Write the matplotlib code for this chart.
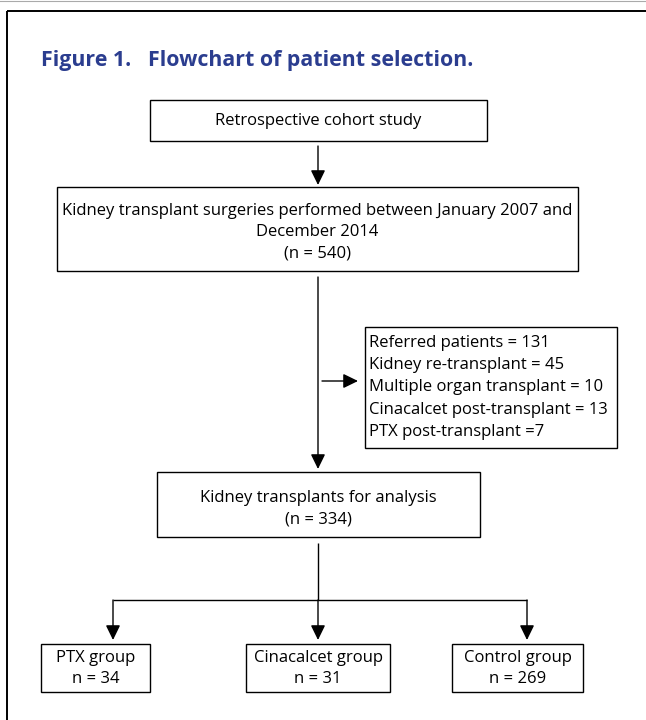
import matplotlib
matplotlib.use("Agg")
import matplotlib.pyplot as plt
from matplotlib.patches import Rectangle, FancyArrowPatch

title_label = "Figure 1."
title_text = "Flowchart of patient selection."
top_box = ["Retrospective cohort study"]
surgery_box = ["Kidney transplant surgeries performed between January 2007 and",
               "December 2014", "(n = 540)"]
exclusion_box = ["Referred patients = 131", "Kidney re-transplant = 45",
                 "Multiple organ transplant = 10", "Cinacalcet post-transplant = 13",
                 "PTX post-transplant =7"]
analysis_box = ["Kidney transplants for analysis", "(n = 334)"]
groups = ["PTX group", "Cinacalcet group", "Control group"]
group_n = [34, 31, 269]

W, H = 646, 720
fig = plt.figure(figsize=(W / 100, H / 100), dpi=100)
ax = fig.add_axes([0, 0, 1, 1])
ax.set_xlim(0, W)
ax.set_ylim(H, 0)
ax.axis("off")

FONT = "Open Sans"
FS = 12.0
TITLE_COLOR = "#2b3d8f"
LW = 1.0

# outer frame
ax.plot([7, W + 5], [11, 11], color="black", lw=1.4, solid_capstyle="butt")
ax.plot([7, 7], [11, H + 5], color="black", lw=1.4, solid_capstyle="butt")
ax.plot([0, W], [0.5, 0.5], color="#aaaaaa", lw=0.8)

# title
ax.text(41, 66, title_label, color=TITLE_COLOR, fontsize=15.4, fontweight="bold",
        family="Open Sans", va="baseline", ha="left")
ax.text(148, 66, title_text, color=TITLE_COLOR, fontsize=15.4, fontweight="bold",
        family="Open Sans", va="baseline", ha="left")


def box(x0, y0, x1, y1):
    ax.add_patch(Rectangle((x0, y0), x1 - x0, y1 - y0, fill=False,
                           edgecolor="black", lw=LW))


def centered_lines(lines, xc, ys):
    for t, y in zip(lines, ys):
        ax.text(xc, y, t, fontsize=FS, family=FONT, ha="center", va="center")


def arrow(x0, y0, x1, y1):
    ax.add_patch(FancyArrowPatch((x0, y0), (x1, y1),
                                 arrowstyle="-|>,head_length=0.45,head_width=0.22",
                                 mutation_scale=20, lw=LW, color="black",
                                 shrinkA=0, shrinkB=0))


def line(xs, ys):
    ax.plot(xs, ys, color="black", lw=LW, solid_capstyle="butt")


# box 1
box(150, 100, 487, 141)
centered_lines(top_box, 318.5, [121])
arrow(318, 146, 318, 185)

# box 2
box(57, 187, 578, 271)
centered_lines(surgery_box, 317.5, [211, 232, 253])
arrow(318, 277, 318, 469)

# exclusion
arrow(322, 381, 358, 381)
box(365, 327, 617, 448)
for i, t in enumerate(exclusion_box):
    ax.text(369, 343 + i * 22.2, t, fontsize=FS, family=FONT, ha="left", va="center")

# box 3
box(157, 472, 480, 537)
centered_lines(analysis_box, 318.5, [498, 520])

# branches
line([318, 318], [543, 600])
line([113, 527], [600, 600])
bx = [(41, 150), (246, 390), (452, 583)]
ax_x = [113, 318, 527]
for (x0, x1), xa, g, n in zip(bx, ax_x, groups, group_n):
    arrow(xa, 600, xa, 640)
    box(x0, 644, x1, 692)
    centered_lines([g, f"n = {n}"], (x0 + x1) / 2, [658, 679])

fig.savefig("out.png", dpi=100)
